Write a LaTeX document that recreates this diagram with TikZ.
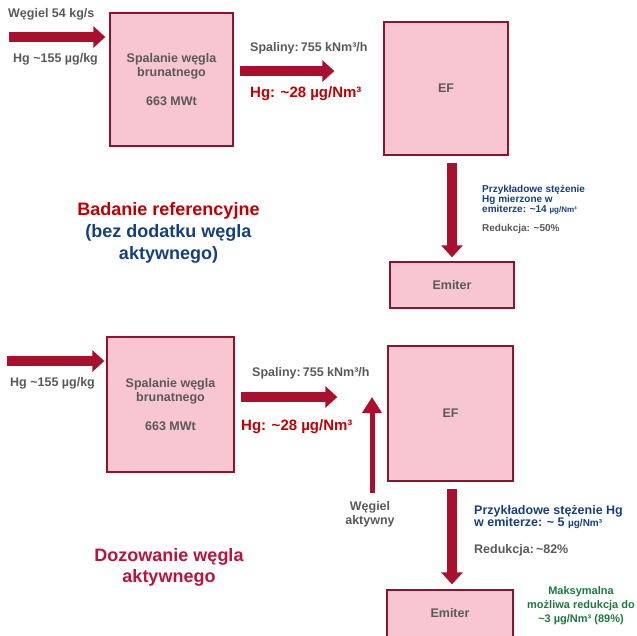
\documentclass[tikz,border=0pt]{standalone}
\usepackage{fontspec}
\setmainfont{Liberation Sans}
\usetikzlibrary{arrows.meta,calc}

\definecolor{boxfill}{HTML}{F8C6D1}
\definecolor{boxedge}{HTML}{8C1430}
\definecolor{flowred}{HTML}{A8102E}
\definecolor{txtgrey}{HTML}{595959}
\definecolor{hgred}{HTML}{C00000}
\definecolor{dozred}{HTML}{B8143C}
\definecolor{noteblue}{HTML}{163F7E}
\definecolor{notegreen}{HTML}{1B7A3E}

\newcommand{\tild}{\char126\relax}

\tikzset{
  unitbox/.style={draw=boxedge,fill=boxfill,line width=1.3pt,inner sep=0pt,
    text=txtgrey,align=center,font=\fontsize{12.5}{14}\selectfont\bfseries},
  lbl/.style={inner sep=0pt,text=txtgrey,font=\fontsize{12.5}{14}\selectfont\bfseries},
  hglbl/.style={inner sep=0pt,text=hgred,font=\fontsize{15}{17}\selectfont\bfseries},
  flow/.style={line width=10pt,flowred,-{Triangle[length=12pt,width=21pt]}},
  thinflow/.style={line width=5pt,flowred,-{Triangle[length=16pt,width=19pt]}},
}

\begin{document}
\begin{tikzpicture}[x=1pt,y=-1pt]
        \useasboundingbox (0,0) rectangle (637,635);
        \clip (0,0) rectangle (637,635);

        % Reference test (top)
        \node[unitbox,minimum width=123pt,minimum height=133pt] (spalA) at (171.5,79.5)
          {Spalanie węgla\\brunatnego\\[15pt]663 MWt};
        \node[unitbox,minimum width=124pt,minimum height=133pt] (efA) at (446,88.5) {EF};
        \node[unitbox,minimum width=124pt,minimum height=46pt] (emA) at (452,285) {Emiter};
        \coordinate (inA) at (9,37);

        \draw[flow] (inA) -- ($(inA -| spalA.west)+(-4,0)$);
        \draw[flow] ($(spalA.east)+(6,-8.5)$) -- ($(efA.west)+(-49,-17.5)$);
        \draw[flow] ($(efA.south)+(6,7)$) -- ($(emA.north)+(0,-4)$);

        \node[lbl,anchor=west] (coalA) at (8,14) {Węgiel 54 kg/s};
        \node[lbl,anchor=west] (hgInA) at (13,59) {Hg \tild155 µg/kg};
        \node[lbl,anchor=west] (gasA) at (250,48) {Spaliny:\,755 kNm³/h};
        \node[hglbl,anchor=west] (hgA) at (250,94) {Hg: \tild28 µg/Nm³};
        \node[inner sep=0pt,anchor=north west,align=left,text=noteblue,
          font=\fontsize{10}{10}\selectfont\bfseries] (noteA) at (482,185)
          {Przykładowe stężenie\\Hg mierzone w\\emiterze: \tild14 {\fontsize{8}{10}\selectfont µg/Nm³}};
        \node[inner sep=0pt,anchor=west,text=txtgrey,
          font=\fontsize{10}{10}\selectfont\bfseries] (redA) at (482,229) {Redukcja: \tild50\%};
        \node[inner sep=0pt,align=center,font=\fontsize{18}{22}\selectfont\bfseries] (titleA) at (168.5,233)
          {\textcolor{hgred}{Badanie referencyjne}\\\textcolor{noteblue}{(bez dodatku węgla}\\\textcolor{noteblue}{aktywnego)}};

        % Activated carbon dosing (bottom)
        \node[unitbox,minimum width=127pt,minimum height=135pt] (spalB) at (170.5,404.5)
          {Spalanie węgla\\brunatnego\\[15pt]663 MWt};
        \node[unitbox,minimum width=125pt,minimum height=135pt] (efB) at (450.5,413.5) {EF};
        \node[unitbox,minimum width=126pt,minimum height=50pt] (emB) at (450,615) {};
        \node[lbl] (emBtxt) at (450,613) {Emiter};
        \coordinate (inB) at (7,361);
        \coordinate (acB) at (372,493);

        \draw[flow] (inB) -- ($(inB -| spalB.west)+(-2,0)$);
        \draw[flow] ($(spalB.east)+(6,-7.5)$) -- ($(efB.west)+(-50,-16.5)$);
        \draw[thinflow] (acB) -- ($(acB |- efB.west)+(0,-16.5)$);
        \draw[flow] ($(efB.south)+(1.5,7)$) -- ($(emB.north)+(2,-5)$);

        \node[lbl,anchor=west] (hgInB) at (10,383) {Hg \tild155 µg/kg};
        \node[lbl,anchor=west] (gasB) at (252,373) {Spaliny:\,755 kNm³/h};
        \node[hglbl,anchor=west] (hgB) at (241,427) {Hg: \tild28 µg/Nm³};
        \node[lbl,align=center] (acLbl) at (370,514) {Węgiel\\aktywny};
        \node[inner sep=0pt,anchor=west,align=left,text=noteblue,
          font=\fontsize{12.5}{11.5}\selectfont\bfseries] (noteB) at (474,517)
          {Przykładowe stężenie Hg\\w emiterze: \tild\ 5 {\fontsize{10}{11.5}\selectfont µg/Nm³}};
        \node[lbl,anchor=west] (redB) at (474,550) {Redukcja:\,\tild82\%};
        \node[inner sep=0pt,align=center,text=notegreen,
          font=\fontsize{11}{14}\selectfont\bfseries] (maxB) at (581,606)
          {Maksymalna\\możliwa redukcja do\\\tild3 µg/Nm³ (89\%)};
        \node[inner sep=0pt,align=center,text=dozred,
          font=\fontsize{18}{21}\selectfont\bfseries] (titleB) at (169,567)
          {Dozowanie węgla\\aktywnego};
\end{tikzpicture}
\end{document}
